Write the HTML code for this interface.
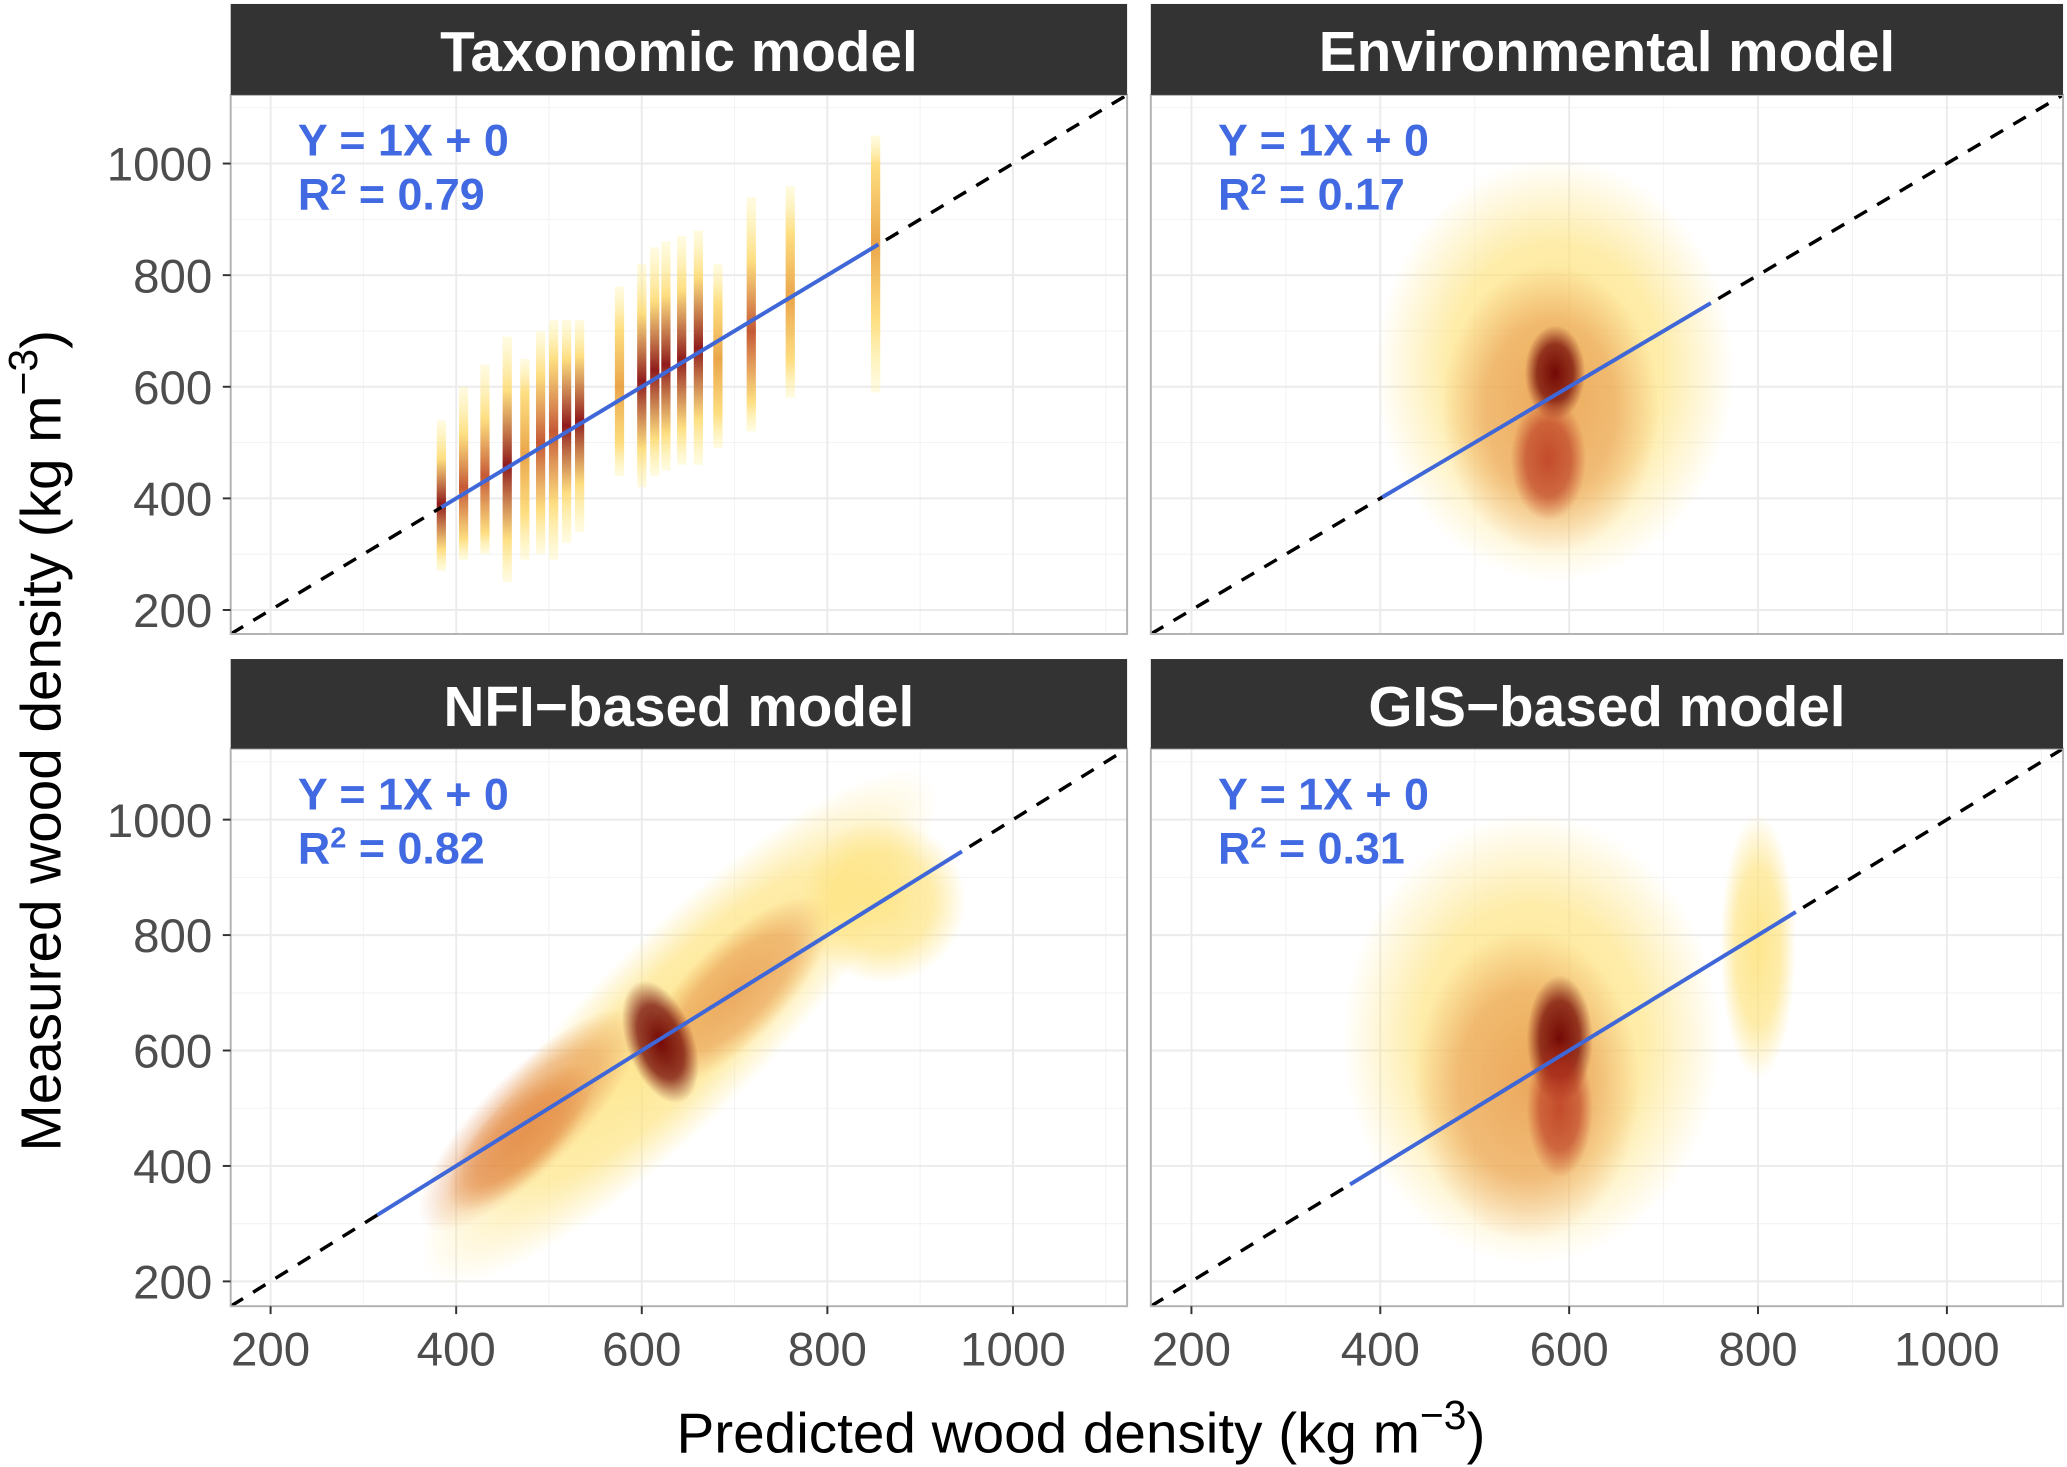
<!DOCTYPE html>
<html><head><meta charset="utf-8"><style>
html,body{margin:0;padding:0;background:#fff}
svg{display:block}
text{font-family:"Liberation Sans",Arial,sans-serif}
</style></head><body>
<svg id="chart" width="2067" height="1467" viewBox="0 0 1568 1113" preserveAspectRatio="none" xmlns="http://www.w3.org/2000/svg">
<defs id="defs"></defs>
<g id="root"></g>
<text transform="translate(46,562) rotate(-90)" text-anchor="middle" font-size="43" fill="#000">Measured wood density (kg m<tspan dy="-18" font-size="31">−3</tspan><tspan dy="18">)</tspan></text>
<text x="820" y="1102" text-anchor="middle" font-size="43" fill="#000">Predicted wood density (kg m<tspan dy="-18" font-size="31">−3</tspan><tspan dy="18">)</tspan></text>
</svg>
<script>
const titles = ["Taxonomic model","Environmental model","NFI\u2212based model","GIS\u2212based model"];
const r2Values = ["0.79","0.17","0.82","0.31"];
const xTicks = [200,400,600,800,1000];
const yTicks = [200,400,600,800,1000];
const domainMin = 157, domainMax = 1123;
// regression line extents [x start, x end] per panel (Y = 1X + 0)
const fitStart = [384, 402, 315, 368];
const fitEnd = [855, 750, 945, 840];
// taxonomic model hexbin columns: predicted x, measured min, measured max, core, intensity
const taxX   = [384,408,431,455,474,491,505,519,533,576,600,614,626,643,661,682,718,760,852];
const taxLo  = [270,290,300,250,290,300,290,320,340,440,420,440,450,460,460,490,520,580,590];
const taxHi  = [540,600,640,690,650,700,720,720,720,780,820,850,860,870,880,820,940,960,1050];
const taxMid = [390,420,440,460,480,500,520,530,540,600,610,630,640,650,670,650,700,760,860];
const taxInt = [0.9,0.7,0.6,0.9,0.5,0.6,0.7,0.8,0.8,0.4,0.9,0.9,0.8,0.9,0.8,0.4,0.7,0.3,0.3];
// density clouds for other panels: panel, cx, cy, rx, ry (data units), rotation deg, level
const cloudPanel = [1,1,1,1, 2,2,2,2,2,2, 3,3,3,3,3];
const cloudX  = [585,580,585,578, 640,480,700,620,860,470, 560,555,590,800,590];
const cloudY  = [630,560,625,470, 640,480,700,615,860,450, 620,540,620,780,500];
const cloudRX = [190,115,32,40, 470,200,170,45,110,130, 200,120,35,40,35];
const cloudRY = [380,260,85,110, 120,65,65,85,110,50, 390,270,110,230,120];
const cloudRot= [0,0,0,0, -45,-45,-45,-20,-30,-45, 0,0,0,0,0];
const cloudLvl= [0,1,3,2, 0,1,1,3,0,1, 0,1,3,0,2];

const NS="http://www.w3.org/2000/svg";
const root=document.getElementById('root');
const defs=document.getElementById('defs');
function el(tag,attrs,parent){const e=document.createElementNS(NS,tag);for(const k in attrs)e.setAttribute(k,attrs[k]);(parent||root).appendChild(e);return e;}

const panels=[
 {x0:175,x1:855,s0:3,p0:72,p1:481},
 {x0:873,x1:1565,s0:3,p0:72,p1:481},
 {x0:175,x1:855,s0:500,p0:568,p1:991},
 {x0:873,x1:1565,s0:500,p0:568,p1:991}
];
const lvlColors=[["#fee27a",0.85],["#e0803a",0.6],["#b8311c",0.8],["#6e0000",0.95]];
lvlColors.forEach((c,i)=>{
  const g=el('radialGradient',{id:'lv'+i},defs);
  el('stop',{offset:'0','stop-color':c[0],'stop-opacity':c[1]},g);
  el('stop',{offset:'0.6','stop-color':c[0],'stop-opacity':c[1]*0.75},g);
  el('stop',{offset:'1','stop-color':c[0],'stop-opacity':0},g);
});

panels.forEach((P,pi)=>{
  const sx=v=>P.x0+(v-domainMin)/(domainMax-domainMin)*(P.x1-P.x0);
  const sy=v=>P.p1-(v-domainMin)/(domainMax-domainMin)*(P.p1-P.p0);
  const g=el('g',{});
  
  
  const clip=el('clipPath',{id:'clip'+pi},defs);
  el('rect',{x:P.x0,y:P.p0,width:P.x1-P.x0,height:P.p1-P.p0},clip);
  const minor=[300,500,700,900,1100];
  minor.forEach(v=>{
    el('line',{x1:sx(v),x2:sx(v),y1:P.p0,y2:P.p1,stroke:'#f3f3f3','stroke-width':0.8},g);
    el('line',{x1:P.x0,x2:P.x1,y1:sy(v),y2:sy(v),stroke:'#f3f3f3','stroke-width':0.8},g);
  });
  xTicks.forEach(v=>{const l=el('line',{x1:sx(v),x2:sx(v),y1:P.p0,y2:P.p1,stroke:'#ebebeb','stroke-width':1.5},g);});
  yTicks.forEach(v=>{const l=el('line',{x1:P.x0,x2:P.x1,y1:sy(v),y2:sy(v),stroke:'#ebebeb','stroke-width':1.5},g);});
  const data=el('g',{'clip-path':'url(#clip'+pi+')'},g);
  if(pi===0){
    taxX.forEach((x,i)=>{
      const gid='tg'+i;
      const lg=el('linearGradient',{id:gid,x1:0,y1:0,x2:0,y2:1},defs);
      const t=(taxHi[i]-taxMid[i])/(taxHi[i]-taxLo[i]);
      const a=taxInt[i];
      el('stop',{offset:0,'stop-color':'#fff3a0','stop-opacity':0.3},lg);
      el('stop',{offset:Math.max(0,t-0.3),'stop-color':'#fdd86a','stop-opacity':0.85},lg);
      el('stop',{offset:t,'stop-color':a>0.75?'#8a1010':(a>0.55?'#c2502a':'#e9a040'),'stop-opacity':0.95},lg);
      el('stop',{offset:Math.min(1,t+0.3),'stop-color':'#fdd86a','stop-opacity':0.85},lg);
      el('stop',{offset:1,'stop-color':'#fff3a0','stop-opacity':0.3},lg);
      const r=el('rect',{x:sx(x)-3.5,y:sy(taxHi[i]),width:7,height:sy(taxLo[i])-sy(taxHi[i]),fill:'url(#'+gid+')'},data);
      
      
    });
  } else {
    cloudPanel.forEach((p,i)=>{
      if(p!==pi)return;
      const cx=sx(cloudX[i]),cy=sy(cloudY[i]);
      const kx=(P.x1-P.x0)/(domainMax-domainMin), ky=(P.p1-P.p0)/(domainMax-domainMin);
      const k=cloudRot[i]!==0?(kx+ky)/2:null;
      const rx=k?cloudRX[i]*k:cloudRX[i]*kx, ry=k?cloudRY[i]*k:cloudRY[i]*ky;
      const e=el('ellipse',{cx:cx,cy:cy,rx:rx,ry:ry,fill:'url(#lv'+cloudLvl[i]+')',transform:'rotate('+cloudRot[i]+' '+cx+' '+cy+')'},data);
      
      
    });
  }
  const d=el('line',{x1:sx(domainMin),y1:sy(domainMin),x2:sx(domainMax),y2:sy(domainMax),stroke:'#000','stroke-width':2.6,'stroke-dasharray':'11,9','clip-path':'url(#clip'+pi+')'},g);
  
  
  const f=el('line',{x1:sx(fitStart[pi]),y1:sy(fitStart[pi]),x2:sx(fitEnd[pi]),y2:sy(fitEnd[pi]),stroke:'#3f67d8','stroke-width':3},g);
  
  
  el('rect',{x:P.x0,y:P.p0,width:P.x1-P.x0,height:P.p1-P.p0,fill:'none',stroke:'#b3b3b3','stroke-width':1.5},g);
  const s=el('rect',{x:P.x0,y:P.s0,width:P.x1-P.x0,height:P.p0-P.s0,fill:'#333333'},g);
  
  
  const st=el('text',{x:(P.x0+P.x1)/2,y:P.s0+51,'text-anchor':'middle','font-size':43,'font-weight':'bold',fill:'#fff'},g);
  st.textContent=titles[pi];
  
  
  const ax=P.x0+51;
  const a1=el('text',{x:ax,y:P.p0+46,'font-size':34,'font-weight':'bold',fill:'#4169e1'},g);
  a1.textContent='Y = 1X + 0';
  
  
  const a2=el('text',{x:ax,y:P.p0+87,'font-size':34,'font-weight':'bold',fill:'#4169e1'},g);
  a2.innerHTML='R<tspan dy="-12" font-size="22">2</tspan><tspan dy="12"> = '+r2Values[pi]+'</tspan>';
  
  
  if(pi%2===0){
    yTicks.forEach(v=>{
      el('line',{x1:P.x0-6,x2:P.x0,y1:sy(v),y2:sy(v),stroke:'#333','stroke-width':1.5},g);
      const t=el('text',{x:P.x0-14,y:sy(v)+13,'text-anchor':'end','font-size':36,fill:'#4d4d4d'},g);
      t.textContent=v;
      
      
    });
  }
  if(pi>=2){
    xTicks.forEach(v=>{
      el('line',{x1:sx(v),x2:sx(v),y1:P.p1,y2:P.p1+6,stroke:'#333','stroke-width':1.5},g);
      const t=el('text',{x:sx(v),y:P.p1+45,'text-anchor':'middle','font-size':36,fill:'#4d4d4d'},g);
      t.textContent=v;
      
      
    });
  }
});
</script>
</body></html>
